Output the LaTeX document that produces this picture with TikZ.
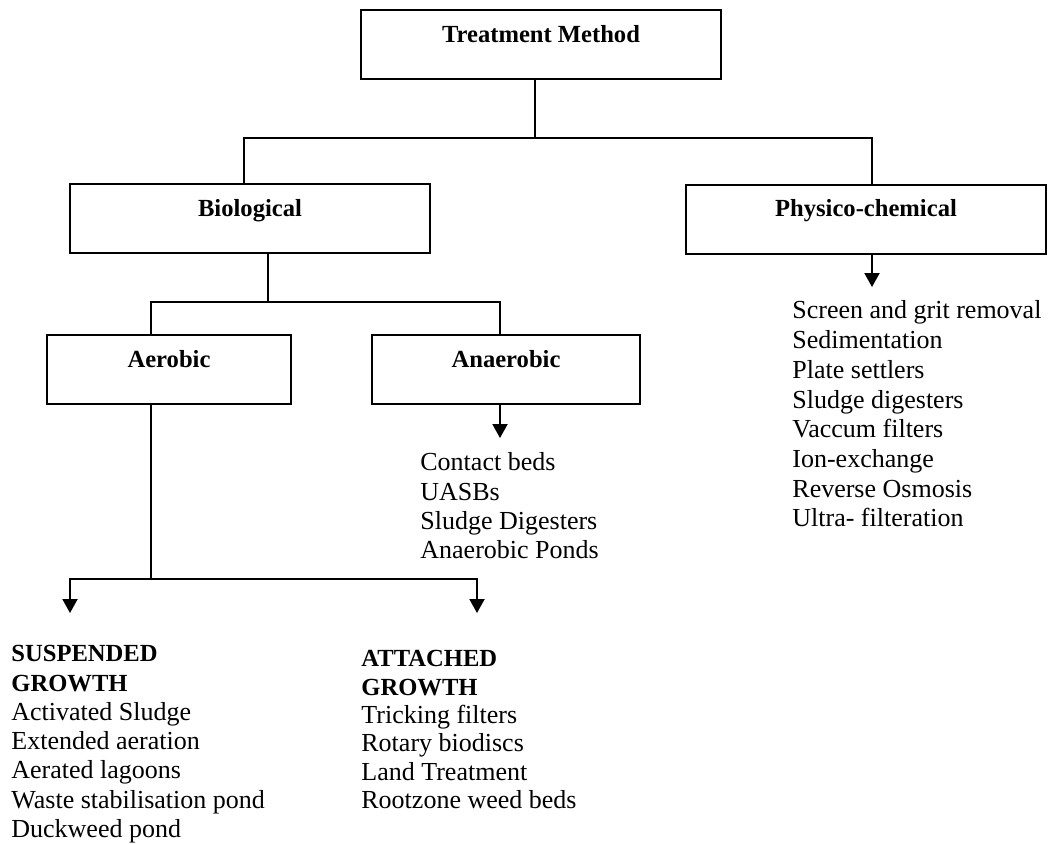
\documentclass[tikz,border=0pt]{standalone}
\usepackage{fontspec}
\setmainfont{Liberation Serif}
\usepackage{tikz}
\usetikzlibrary{arrows.meta}

\tikzset{
  box/.style={draw=black, line width=1pt, inner sep=0pt, minimum width=180pt,
    text height=16pt, text depth=18.5pt, font=\fontsize{12.3}{14.85}\selectfont\bfseries},
  list/.style={anchor=north west, inner sep=0pt, align=left,
    font=\fontsize{13}{14.85}\selectfont},
  link/.style={black, line width=1pt},
  arr/.style={black, line width=1pt, -{Triangle[width=7.5pt,length=7pt]}}
}
\newcommand{\hd}[1]{{\fontsize{12.3}{14}\selectfont\bfseries #1}}

\begin{document}
\begin{tikzpicture}[x=0.5pt, y=-0.5pt]
        \useasboundingbox (0,0) rectangle (1050,843);
        \node[box] (treat) at (541,44.5) {Treatment Method};
        \node[box] (bio) at (250,218.5) {Biological};
        \node[box] (phys) at (866,219) {Physico-chemical};
        \node[box, minimum width=122pt] (aer) at (169,369.5) {Aerobic};
        \node[box, minimum width=134pt] (anaer) at (506,369.5) {Anaerobic};
        \node[list] (physlist) at (792,300.5) {Screen and grit removal\\Sedimentation\\Plate settlers\\Sludge digesters\\Vaccum filters\\Ion-exchange\\Reverse Osmosis\\Ultra- filteration};
        \node[list, font=\fontsize{13}{14.65}\selectfont] (anaerlist) at (420,452.5) {Contact beds\\UASBs\\Sludge Digesters\\Anaerobic Ponds};
        \node[list, font=\fontsize{13}{14.65}\selectfont] (susplist) at (11,645) {\hd{SUSPENDED}\\\hd{GROWTH}\\Activated Sludge\\Extended aeration\\Aerated lagoons\\Waste stabilisation pond\\Duckweed pond};
        \node[list, font=\fontsize{13}{14.2}\selectfont] (attlist) at (361,650) {\hd{ATTACHED}\\\hd{GROWTH}\\Tricking filters\\Rotary biodiscs\\Land Treatment\\Rootzone weed beds};
        \coordinate (physend) at (872,287);
        \coordinate (anaerend) at (500,438);
        \coordinate (suspend) at (70,613);
        \coordinate (attend) at (477,613);
        \draw[link] ([xshift=-3pt]treat.south) -- ++(0,58) -| ([xshift=-3pt]bio.north);
        \draw[link] ([xshift=-3pt]treat.south) -- ++(0,58) -| ([xshift=3pt]phys.north);
        \draw[link] ([xshift=9pt]bio.south) -- ++(0,48) -| ([xshift=-9pt]aer.north);
        \draw[link] ([xshift=9pt]bio.south) -- ++(0,48) -| ([xshift=-3pt]anaer.north);
        \draw[arr] ([xshift=3pt]phys.south) -- (physend);
        \draw[arr] ([xshift=-3pt]anaer.south) -- (anaerend);
        \draw[link] ([xshift=-9pt]aer.south) -- ++(0,174) coordinate (aerjoin);
        \draw[arr] (aerjoin) -| (suspend);
        \draw[arr] (aerjoin) -| (attend);
    \end{tikzpicture}
\end{document}
